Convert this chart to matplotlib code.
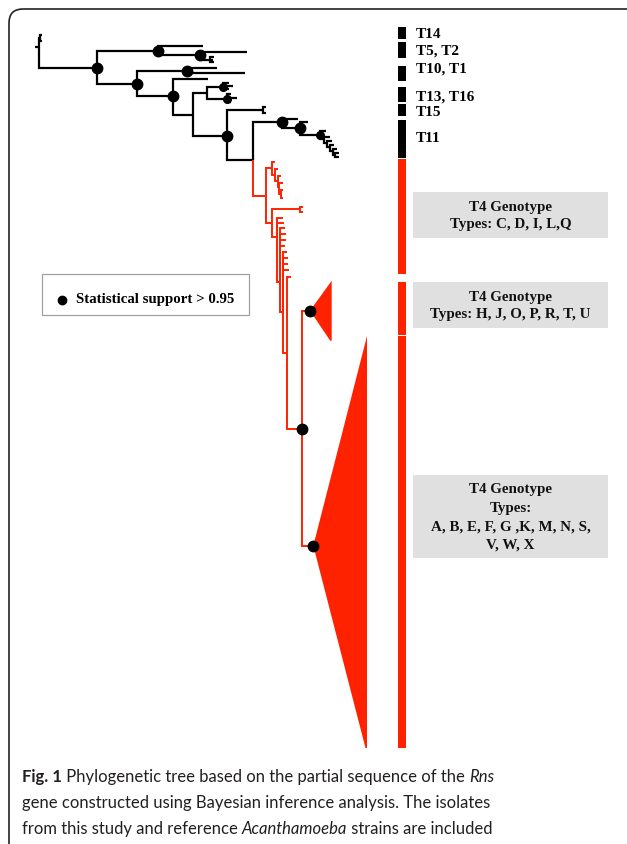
import matplotlib
matplotlib.use("Agg")
import matplotlib.pyplot as plt
from matplotlib.collections import LineCollection
from matplotlib.patches import Polygon, Rectangle, PathPatch
from matplotlib.path import Path

# ---------------- data ----------------
# tree nodes: id, parent, x (depth, px), y (px)
node_id = ["S", "R", "O", "o1", "o2", "A", "B", "b1", "B2", "b2", "B3", "b3a", "b3b", "b3c",
           "C", "D", "d1", "d2", "E", "e1", "F", "G", "G1", "g1a", "g1b", "g1c", "G2", "g2a", "g2b", "g2c",
           "H", "h1", "h1a", "h1b", "I", "J", "j1", "J2", "j2", "J3", "j3", "J4", "j4", "J5", "j5",
           "J6", "j6", "J7", "j7", "J8", "j8a", "j8b",
           "K", "L", "l1", "L2", "l2", "L3", "l3", "L4", "l4", "L5", "l5a", "l5b",
           "M", "m1", "m1a", "m1b", "N", "n1", "n2", "N1", "n11", "n12", "n13", "n14",
           "N2", "n21", "n22", "n23", "n24", "N3", "n31", "P", "TS", "TB"]
node_parent = [None, "S", "R", "O", "O", "R", "A", "B", "B", "B2", "B2", "B3", "B3", "B3",
               "A", "C", "D", "D", "C", "E", "E", "F", "G", "G1", "G1", "G1", "G", "G2", "G2", "G2",
               "F", "H", "h1", "h1", "H", "I", "J", "J", "J2", "J2", "J3", "J3", "J4", "J4", "J5",
               "J5", "J6", "J6", "J7", "J7", "J8", "J8",
               "I", "K", "L", "L", "L2", "L2", "L3", "L3", "L4", "L4", "L5", "L5",
               "K", "M", "m1", "m1", "M", "N", "N", "N", "N1", "N1", "N1", "N1",
               "N1", "N2", "N2", "N2", "N2", "N2", "N3", "N3", "P", "P"]
node_x = [35, 39, 39.5, 41.5, 41.5, 97, 158, 202.7, 200, 246.7, 210, 214, 213, 214,
          137, 186.7, 217, 245, 172.7, 208.3, 192.7, 207, 223.3, 229, 233, 229, 226.7, 231, 236.7, 231,
          227.3, 263.3, 265.5, 265.5, 253.3, 281.7, 298.3, 300, 307.7, 320, 326, 324, 330, 327, 332,
          330, 334, 333, 337, 335, 339, 339,
          266, 272.3, 275, 275, 278, 277.5, 281, 279, 282.5, 280.5, 283, 283,
          271.7, 300, 302.5, 302.5, 277.3, 283, 284, 280.3, 285, 285.5, 286, 285,
          283.3, 287, 287.5, 288, 289, 286.7, 290.7, 302.3, 310, 313.3]
node_y = [48, 48, 39, 36, 42, 69, 51.7, 46.7, 56, 52.7, 60.5, 58, 60.5, 63,
          84.5, 71.7, 69.3, 74.3, 97.3, 80, 115.7, 94, 88.3, 84, 86.7, 90, 100, 95, 99.3, 102.7,
          136.7, 110.7, 107.5, 114, 160.7, 123.3, 120, 129.3, 123.3, 136, 132, 140, 137.5, 144, 142,
          148, 146, 152, 150, 155.5, 153.5, 157.5,
          197.3, 169.3, 163, 176, 170, 182, 177, 188, 184, 195, 191, 199,
          224, 210, 207.5, 212.5, 238.3, 219, 224, 283, 229, 235, 241, 247,
          313, 253, 259, 265, 271, 354, 278.3, 430, 311.7, 546.7]
red_clade_root = "K"

# nodes with statistical support > 0.95
support_nodes = ["A", "B", "B2", "C", "D", "E", "H", "J", "J2", "P", "TS", "TB"]
support_small = ["G1", "G2", "J3"]

# collapsed clades: apex node, right x, top y, bottom y
collapsed_apex = ["TS", "TB"]
collapsed_right = [331.7, 367]
collapsed_top = [281.7, 337]
collapsed_bottom = [341.7, 749]

# side bars: (top, bottom, colour)
bar_top = [28.3, 43.3, 66.7, 87.7, 105, 120.7, 160, 283.3, 337]
bar_bottom = [40, 59.3, 82.3, 102.7, 116.7, 159.3, 275, 335.5, 749.3]
bar_red = [False, False, False, False, False, False, True, True, True]

group_labels = ["T14", "T5, T2", "T10, T1", "T13, T16", "T15", "T11"]
group_label_y = [34, 50.7, 69.3, 96.7, 112.3, 138.3]

t4_box_top = [193.3, 283.3, 476]
t4_box_bottom = [239.3, 329.3, 559.3]
t4_box_lines = [["T4 Genotype", "Types: C, D, I, L,Q"],
                ["T4 Genotype", "Types: H, J, O, P, R, T, U"],
                ["T4 Genotype", "Types:", "A, B, E, F, G ,K, M, N, S,", "V, W, X"]]

legend_text = "Statistical support > 0.95"

caption_lines = [[("Fig. 1", "bold"), (" Phylogenetic tree based on the partial sequence of the ", "normal"), ("Rns", "italic")],
                 [("gene constructed using Bayesian inference analysis. The isolates", "normal")],
                 [("from this study and reference ", "normal"), ("Acanthamoeba", "italic"), (" strains are included", "normal")]]

# ---------------- figure ----------------
W, H = 627, 845
fig = plt.figure(figsize=(W / 100, H / 100), dpi=100)
ax = fig.add_axes([0, 0, 1, 1])
ax.set_xlim(0, W)
ax.set_ylim(H, 0)
ax.axis("off")

RED = "#ff2200"
BLACK = "#000000"
SERIF = "Liberation Serif"

idx = {n: i for i, n in enumerate(node_id)}
children = {n: [] for n in node_id}
for n, p in zip(node_id, node_parent):
    if p is not None:
        children[p].append(n)

red_set = set()
stack = [red_clade_root]
while stack:
    n = stack.pop()
    red_set.add(n)
    stack.extend(children[n])

segs_black, segs_red = [], []
for n, p in zip(node_id, node_parent):
    if p is None:
        continue
    px, py = node_x[idx[p]], node_y[idx[p]]
    cx, cy = node_x[idx[n]], node_y[idx[n]]
    seg = [(px, py), (px, cy), (cx, cy)]
    (segs_red if n in red_set else segs_black).append(seg)

ax.add_collection(LineCollection(segs_black, colors=BLACK, linewidths=1.6,
                                 joinstyle="miter", capstyle="butt", zorder=3))
ax.add_collection(LineCollection(segs_red, colors=RED, linewidths=1.4,
                                 joinstyle="miter", capstyle="butt", zorder=3))

# collapsed clades
for a, rx, ty, by in zip(collapsed_apex, collapsed_right, collapsed_top, collapsed_bottom):
    axp, ayp = node_x[idx[a]], node_y[idx[a]]
    ax.add_patch(Polygon([(axp, ayp), (rx, ty), (rx, by), (rx - 1.5, by)], closed=True,
                         facecolor=RED, edgecolor="none", zorder=2))

# support dots
ax.plot([node_x[idx[n]] for n in support_nodes], [node_y[idx[n]] for n in support_nodes],
        "o", color=BLACK, markersize=7.5, zorder=5)
ax.plot([node_x[idx[n]] for n in support_small], [node_y[idx[n]] for n in support_small],
        "o", color=BLACK, markersize=5.5, zorder=5)

# side bars
for t, b, r in zip(bar_top, bar_bottom, bar_red):
    ax.add_patch(Rectangle((398.3, t), 7.7, b - t, facecolor=RED if r else BLACK,
                           edgecolor="none", zorder=2))

for lab, y in zip(group_labels, group_label_y):
    ax.text(416, y, lab, family=SERIF, fontweight="bold", fontsize=11,
            ha="left", va="center", color=BLACK)

# T4 boxes
for t, b, lines in zip(t4_box_top, t4_box_bottom, t4_box_lines):
    ax.add_patch(Rectangle((413.3, t), 194.4, b - t, facecolor="#e0e0e0", edgecolor="none", zorder=1))
    n = len(lines)
    yc = (t + b) / 2
    step = 18.5 if n > 2 else 17
    for k, s in enumerate(lines):
        ax.text(510.5, yc + (k - (n - 1) / 2) * step, s, family=SERIF, fontweight="bold",
                fontsize=10.8, ha="center", va="center", color="#111111")

# legend box
ax.add_patch(Rectangle((41.7, 275), 207.3, 41, facecolor="white", edgecolor="#a0a0a0",
                       linewidth=0.9, zorder=1))
ax.plot([61.7], [301], "o", color=BLACK, markersize=6, zorder=5)
ax.text(76, 299.3, legend_text, family=SERIF, fontweight="bold", fontsize=10.7,
        ha="left", va="center", color=BLACK)

# outer rounded border (top-left corner only visible)
r = 14
verts = [(9, H + 5), (9, 10 + r), (9, 10), (9 + r, 10), (W + 5, 10)]
codes = [Path.MOVETO, Path.LINETO, Path.CURVE3, Path.CURVE3, Path.LINETO]
ax.add_patch(PathPatch(Path(verts, codes), facecolor="none", edgecolor="#222222",
                       linewidth=1.2, zorder=6))

# caption with mixed styles
fig.canvas.draw()
renderer = fig.canvas.get_renderer()
CAP_FONT = "Lato"
cap_base = [781.7, 808.3, 834.3]
for pieces, yb in zip(caption_lines, cap_base):
    x = 21.7
    for s, style in pieces:
        kw = dict(family=CAP_FONT, fontsize=12.0, color="#231f20", ha="left", va="baseline")
        if style == "bold":
            kw["fontweight"] = "bold"
        elif style == "italic":
            kw["fontstyle"] = "italic"
        t = ax.text(x, yb, s, **kw)
        bb = t.get_window_extent(renderer)
        x = bb.x1

fig.savefig("out.png", dpi=100)
